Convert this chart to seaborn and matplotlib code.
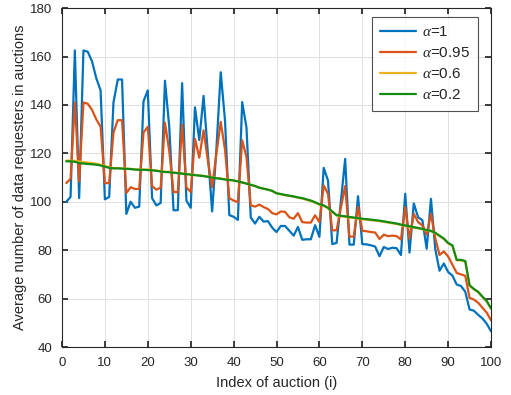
import numpy as np
import pandas as pd
import seaborn as sns
import matplotlib.pyplot as plt

# auction index 1..100
auction = list(range(1, 101))

alpha_1 = [100, 102, 162.5, 101.5, 162.5, 162, 158, 151, 146, 101,
           102, 141, 150.5, 150.5, 95, 100, 97.5, 98, 141.5, 146,
           101.5, 98.5, 99.5, 150, 131, 96.5, 96.5, 149, 100.5, 97.5,
           139, 125.5, 143.7, 120, 96, 122, 153.5, 133.5, 94.5, 93.8,
           92.5, 141.2, 130.7, 93.5, 91, 93.8, 91.8, 92, 89.3, 87.5,
           90, 90, 88, 86, 89.6, 84.3, 84.5, 84.5, 90.3, 85.5,
           114, 108.8, 82.5, 83, 100, 117.7, 82.3, 82.3, 102.3, 82.5,
           82.4, 82, 81.5, 77.5, 81.3, 80.5, 81, 80.8, 78, 103.3,
           79, 99.3, 93.6, 92.4, 80.6, 101.2, 80.5, 71.5, 74.5, 71,
           69.5, 65.8, 65.2, 62.8, 55.5, 55, 53.3, 51.8, 49.6, 46.5]

alpha_095 = [107.7, 109.5, 141, 108.5, 141, 140.5, 138, 134, 131, 107.7,
             107.7, 128.6, 133.7, 133.7, 103.6, 106, 105.3, 105.3, 128.6, 131,
             106.5, 105, 105.8, 132.7, 121, 104, 104, 131.9, 106, 104,
             126, 118.2, 129.5, 117, 106, 120, 133, 121.5, 101.5, 100.5,
             99.8, 125.4, 118.5, 98.5, 98, 98.8, 97.8, 97, 95.3, 94.8,
             96, 95.8, 93.6, 93, 95.3, 91.6, 91.4, 91.4, 94.4, 91.6,
             106.7, 103.3, 88.2, 88.2, 97.5, 106.5, 85.6, 85.6, 98, 88,
             87.8, 87.5, 87.3, 84.6, 86.4, 85.8, 86, 85.8, 84.4, 97.7,
             84.7, 95, 91.6, 90.2, 86.4, 95, 85, 78, 79.5, 77.4,
             74, 70.6, 70, 69.4, 60.3, 59.6, 58.3, 56.2, 54.2, 51]

alpha_06 = [117.0, 117.0, 116.9, 116.6, 116.4, 116.2, 116.0, 115.7, 115.3, 114.8,
            114.2, 113.9, 113.9, 113.8, 113.7, 113.6, 113.4, 113.3, 113.3, 113.3,
            113.1, 112.9, 112.6, 112.4, 112.4, 112.1, 111.9, 111.7, 111.5, 111.3,
            111.1, 110.9, 110.7, 110.4, 110.1, 109.8, 109.6, 109.3, 109.1, 108.8,
            108.4, 108.0, 107.5, 107.0, 106.5, 105.8, 105.4, 105.0, 104.5, 103.5,
            103.1, 102.7, 102.4, 102.1, 101.7, 101.3, 100.8, 100.3, 99.6, 98.8,
            98.3, 97.3, 95.8, 94.3, 94.0, 93.8, 93.5, 93.3, 93.0, 92.8,
            92.6, 92.4, 92.2, 92.0, 91.7, 91.4, 91.1, 90.8, 90.4, 90.0,
            89.7, 89.3, 89.0, 88.6, 88.1, 87.8, 87.0, 85.8, 84.6, 82.8,
            81.8, 75.8, 75.8, 75.3, 65.3, 63.8, 62.6, 60.6, 58.8, 55.8]

alpha_02 = [116.7, 116.7, 116.5, 116.0, 115.8, 115.6, 115.5, 115.3, 115.0, 114.5,
            114.0, 113.8, 113.8, 113.7, 113.6, 113.5, 113.3, 113.2, 113.2, 113.1,
            113.0, 112.8, 112.5, 112.3, 112.2, 112.0, 111.8, 111.6, 111.4, 111.2,
            111.0, 110.8, 110.6, 110.3, 110.0, 109.7, 109.5, 109.2, 109.0, 108.8,
            108.4, 108.0, 107.5, 107.0, 106.5, 105.8, 105.4, 105.0, 104.5, 103.5,
            103.2, 102.8, 102.5, 102.2, 101.8, 101.5, 101.0, 100.5, 99.8, 99.0,
            98.5, 97.5, 96.0, 94.5, 94.2, 94.0, 93.7, 93.5, 93.2, 93.0,
            92.8, 92.6, 92.4, 92.2, 91.9, 91.6, 91.3, 91.0, 90.6, 90.2,
            89.9, 89.5, 89.2, 88.8, 88.3, 88.0, 87.2, 86.0, 84.8, 83.0,
            82.0, 76.0, 76.0, 75.5, 65.5, 64.0, 62.8, 60.8, 59.0, 56.0]

labels = [r'$\alpha$=1', r'$\alpha$=0.95', r'$\alpha$=0.6', r'$\alpha$=0.2']
colors = ['#0072BD', '#D95319', '#EDB120', '#138A13']

df = pd.DataFrame({
    'auction': auction * 4,
    'value': alpha_1 + alpha_095 + alpha_06 + alpha_02,
    'series': np.repeat(labels, len(auction)),
})

sns.set_theme(style='whitegrid')
plt.rcParams['font.family'] = ['Liberation Sans', 'DejaVu Sans']
plt.rcParams['mathtext.fontset'] = 'custom'
plt.rcParams['mathtext.it'] = 'Liberation Serif:italic'

fig = plt.figure(figsize=(5.11, 3.95), dpi=100)
ax = fig.add_axes([0.1213, 0.1215, 0.8396, 0.858])

sns.lineplot(data=df, x='auction', y='value', hue='series', hue_order=labels,
             palette=colors, linewidth=1.6, ax=ax)

ax.set_xlim(0, 100)
ax.set_ylim(40, 180)
ax.set_xticks(range(0, 101, 10))
ax.set_yticks(range(40, 181, 20))
ax.set_xlabel('Index of auction (i)', fontsize=10.5, labelpad=5)
ax.set_ylabel('Average number of data requesters in auctions', fontsize=10.5, labelpad=2)
ax.tick_params(direction='in', length=4, labelsize=9.5, colors='#262626',
               top=True, right=True, bottom=True, left=True)
ax.tick_params(axis='x', pad=7)
ax.tick_params(axis='y', pad=7)
ax.grid(True, color='#e0e0e0', linewidth=0.7)
for s in ax.spines.values():
    s.set_color('#262626')
    s.set_linewidth(0.8)

leg = ax.legend(loc='upper right', bbox_to_anchor=(0.9697, 0.9735), fontsize=11,
                handlelength=2.3, frameon=True, fancybox=False, edgecolor='#262626',
                borderaxespad=0, labelspacing=0.45, handletextpad=0.4, borderpad=0.55)
leg.get_frame().set_linewidth(0.8)

plt.savefig('out.png', dpi=100)
